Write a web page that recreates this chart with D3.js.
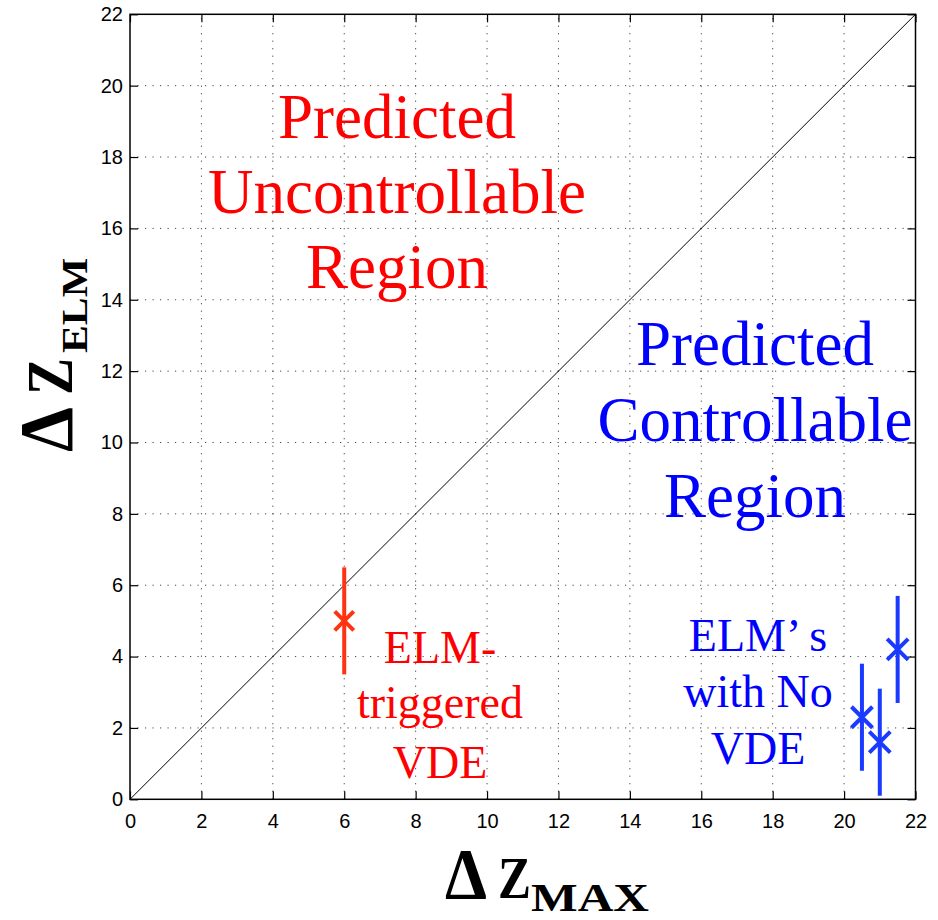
<!DOCTYPE html>
<html>
<head>
<meta charset="utf-8">
<script src="https://cdn.jsdelivr.net/npm/d3@7"></script>
<style>
  html, body { margin: 0; padding: 0; background: #fff; }
  svg { display: block; }
</style>
</head>
<body>
<svg id="chart" width="938" height="920"></svg>
<script>
// Axis ticks
const xTicks = [0, 2, 4, 6, 8, 10, 12, 14, 16, 18, 20, 22];
const yTicks = [0, 2, 4, 6, 8, 10, 12, 14, 16, 18, 20, 22];

// ELM event that triggered a VDE
const vdeX = [6];
const vdeY = [5];
const vdeErr = [1.5];

// ELMs with no VDE
const noVdeX = [20.5, 21, 21.5];
const noVdeY = [2.3, 1.6, 4.2];
const noVdeErr = [1.5, 1.5, 1.5];

// Marginal stability line
const diagonal = [[0, 0], [22, 22]];

const svg = d3.select("#chart");
const L = 130, R = 915.5, T = 14.3, B = 799.3;

const x = d3.scaleLinear().domain([0, 22]).range([L, R]);
const y = d3.scaleLinear().domain([0, 22]).range([B, T]);

const serif = "'Liberation Serif', 'Times New Roman', serif";
const sans = "'Liberation Sans', Arial, Helvetica, sans-serif";

// Dotted grid
const grid = svg.append("g").attr("stroke", "#444").attr("stroke-width", 1)
  .attr("stroke-dasharray", "1.2,6.3");
grid.selectAll("line.gx").data(xTicks.slice(1, -1)).join("line")
  .attr("x1", d => x(d)).attr("x2", d => x(d)).attr("y1", B).attr("y2", T);
grid.selectAll("line.gy").data(yTicks.slice(1, -1)).join("line")
  .attr("y1", d => y(d)).attr("y2", d => y(d)).attr("x1", L).attr("x2", R);

// Axes with inward ticks on all four sides
function styleAxis(g) {
  g.select(".domain").remove();
  g.selectAll(".tick line").attr("stroke", "#000").attr("stroke-width", 1.2);
  g.selectAll(".tick text")
    .style("font-family", sans).style("font-size", "20px").attr("fill", "#000");
}
svg.append("g").attr("transform", `translate(0,${B})`)
  .call(d3.axisBottom(x).tickValues(xTicks).tickSizeInner(-8).tickSizeOuter(0).tickPadding(15).tickFormat(d3.format("d")))
  .call(styleAxis);
svg.append("g").attr("transform", `translate(${L},0)`)
  .call(d3.axisLeft(y).tickValues(yTicks).tickSizeInner(-8).tickSizeOuter(0).tickPadding(7).tickFormat(d3.format("d")))
  .call(styleAxis);
svg.append("g").attr("transform", `translate(0,${T})`)
  .call(d3.axisTop(x).tickValues(xTicks).tickSizeInner(-8).tickSizeOuter(0).tickFormat(""))
  .call(styleAxis);
svg.append("g").attr("transform", `translate(${R},0)`)
  .call(d3.axisRight(y).tickValues(yTicks).tickSizeInner(-8).tickSizeOuter(0).tickFormat(""))
  .call(styleAxis);

// Frame
svg.append("rect").attr("x", L).attr("y", T).attr("width", R - L).attr("height", B - T)
  .attr("fill", "none").attr("stroke", "#000").attr("stroke-width", 1.5);

// Diagonal ΔZ_ELM = ΔZ_MAX
svg.append("path")
  .attr("d", d3.line().x(d => x(d[0])).y(d => y(d[1]))(diagonal))
  .attr("fill", "none").attr("stroke", "#000").attr("stroke-width", 1);

// Error bars with x markers
function drawSeries(xs, ys, errs, color, size) {
  const g = svg.append("g").attr("stroke", color).attr("stroke-width", 4).attr("fill", "none");
  const data = xs.map((v, i) => ({ x: v, y: ys[i], e: errs[i] }));
  g.selectAll("line.err").data(data).join("line")
    .attr("x1", d => x(d.x)).attr("x2", d => x(d.x))
    .attr("y1", d => y(d.y - d.e)).attr("y2", d => y(d.y + d.e));
  g.selectAll("path.mk").data(data).join("path")
    .attr("d", d => {
      const cx = x(d.x), cy = y(d.y);
      return `M${cx - size},${cy - size}L${cx + size},${cy + size}M${cx - size},${cy + size}L${cx + size},${cy - size}`;
    });
}
drawSeries(vdeX, vdeY, vdeErr, "#ff3311", 9.5);
drawSeries(noVdeX, noVdeY, noVdeErr, "#1a3aff", 10.5);

// Multi-line centered annotations
function block(lines, cx, baselines, size, color) {
  const t = svg.append("g").attr("font-family", serif).attr("font-size", size)
    .attr("fill", color).attr("text-anchor", "middle");
  t.selectAll("text").data(lines).join("text")
    .attr("x", cx).attr("y", (d, i) => baselines[i]).text(d => d);
}
block(["Predicted", "Uncontrollable", "Region"], 397, [138, 213, 288], 63, "#ff0000");
block(["Predicted", "Controllable", "Region"], 755, [365, 441, 517], 63, "#0000ff");
block(["ELM-", "triggered", "VDE"], 440, [663, 718, 778], 46, "#ff0000");
block(["ELM\u2019 s", "with No", "VDE"], 758, [651, 707, 764], 46, "#0000ff");

// Axis titles
const xt = svg.append("g").attr("font-family", serif).attr("font-weight", "bold").attr("fill", "#000");
xt.append("text").attr("x", 445).attr("y", 898).attr("font-size", 72)
  .attr("textLength", 42).attr("lengthAdjust", "spacingAndGlyphs").text("\u0394");
xt.append("text").attr("x", 498).attr("y", 898).attr("font-size", 60)
  .attr("textLength", 33).attr("lengthAdjust", "spacingAndGlyphs").text("Z");
xt.append("text").attr("x", 531).attr("y", 911).attr("font-size", 39)
  .attr("textLength", 118).attr("lengthAdjust", "spacingAndGlyphs").text("MAX");

const yt = svg.append("g").attr("transform", "rotate(-90)")
  .attr("font-family", serif).attr("font-weight", "bold").attr("fill", "#000");
yt.append("text").attr("x", -452).attr("y", 72).attr("font-size", 76)
  .attr("textLength", 45).attr("lengthAdjust", "spacingAndGlyphs").text("\u0394");
yt.append("text").attr("x", -395).attr("y", 72).attr("font-size", 66)
  .attr("textLength", 37).attr("lengthAdjust", "spacingAndGlyphs").text("Z");
yt.append("text").attr("x", -353).attr("y", 87).attr("font-size", 36)
  .attr("textLength", 95).attr("lengthAdjust", "spacingAndGlyphs").text("ELM");
</script>
</body>
</html>
